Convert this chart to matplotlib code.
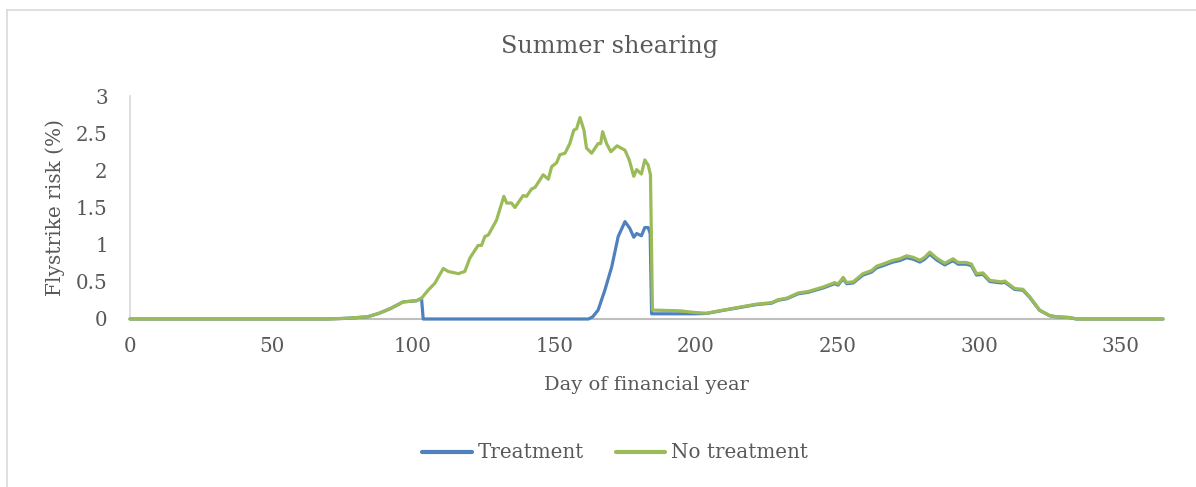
import matplotlib
matplotlib.use("Agg")
import matplotlib.pyplot as plt
from matplotlib.lines import Line2D

plt.rcParams['font.family'] = ['DejaVu Serif']

# ---- data (day of financial year, flystrike risk %) ----
early_days = [0, 60, 70, 77, 84, 88, 92, 96.5, 101.3, 103.0]
early_vals = [0, 0, 0.0, 0.01, 0.03, 0.077, 0.14, 0.23, 0.246, 0.28]

late_days = [203.7, 209.6, 215.5, 221.4, 226.7, 229.0, 232.0, 236.1, 239.6, 244.9,
             249.0, 250.2, 252.0, 253.2, 255.5, 259.0, 262.0, 263.8, 266.1, 269.6,
             272.0, 274.4, 276.7, 279.1, 280.8, 282.6, 285.0, 287.9, 290.8, 292.6,
             295.5, 297.3, 299.1, 301.4, 303.8, 307.9, 309.1, 312.6, 315.5, 317.9,
             321.4, 325.0, 327.3, 332.0, 334.4, 365]
late_vals = [0.077, 0.12, 0.16, 0.20, 0.22, 0.26, 0.28, 0.35, 0.37, 0.43,
             0.49, 0.47, 0.56, 0.49, 0.50, 0.61, 0.65, 0.71, 0.74, 0.79,
             0.81, 0.85, 0.83, 0.79, 0.83, 0.90, 0.82, 0.75, 0.81, 0.76,
             0.76, 0.74, 0.61, 0.62, 0.52, 0.50, 0.51, 0.41, 0.40, 0.30,
             0.12, 0.045, 0.03, 0.02, 0.0, 0.0]

no_treat_mid_days = [105.4, 107.7, 110.7, 112.4, 116.0, 118.3, 120.1, 123.0, 124.2, 125.4,
                     126.6, 129.5, 132.1, 133.1, 134.8, 136.0, 138.9, 140.1, 141.9, 143.1,
                     146.0, 147.8, 149.0, 150.7, 151.9, 153.7, 155.4, 156.8, 157.8, 159.0,
                     160.4, 161.3, 163.1, 165.4, 166.3, 167.0, 168.4, 169.9, 172.1, 174.9,
                     176.4, 178.0, 179.0, 180.7, 181.9, 183.1, 183.9, 184.6, 194.3, 199.0]
no_treat_mid_vals = [0.39, 0.48, 0.68, 0.64, 0.61, 0.64, 0.82, 0.99, 0.99, 1.11,
                     1.13, 1.33, 1.65, 1.56, 1.56, 1.50, 1.66, 1.65, 1.75, 1.77,
                     1.94, 1.88, 2.05, 2.10, 2.21, 2.23, 2.36, 2.54, 2.56, 2.71,
                     2.54, 2.30, 2.23, 2.36, 2.36, 2.52, 2.36, 2.25, 2.33, 2.27,
                     2.14, 1.92, 2.01, 1.95, 2.14, 2.07, 1.94, 0.12, 0.11, 0.09]

treat_mid_days = [103.6, 162.0, 163.5, 165.4, 167.8, 170.2, 172.5, 174.9, 176.6, 178.0,
                  179.0, 180.7, 181.9, 183.1, 183.8, 184.3, 194.3, 199.0]
treat_mid_vals = [0.0, 0.0, 0.03, 0.12, 0.39, 0.70, 1.11, 1.31, 1.22, 1.10,
                  1.15, 1.12, 1.23, 1.23, 1.15, 0.07, 0.07, 0.07]

no_treat_days = early_days + no_treat_mid_days + late_days
no_treat_vals = early_vals + no_treat_mid_vals + late_vals
treat_days = early_days + treat_mid_days + late_days
treat_vals = early_vals + treat_mid_vals + [v * 0.97 for v in late_vals]

x_ticks = [0, 50, 100, 150, 200, 250, 300, 350]
y_ticks = [0, 0.5, 1, 1.5, 2, 2.5, 3]
y_tick_labels = ['0', '0.5', '1', '1.5', '2', '2.5', '3']

title = "Summer shearing"
x_label = "Day of financial year"
y_label = "Flystrike risk (%)"
series_names = ["Treatment", "No treatment"]

# ---- styling ----
W, H = 1196, 487
text_col = '#595959'
blue = '#4F81BD'
green = '#9BBB59'

fig = plt.figure(figsize=(W / 100, H / 100), dpi=100)
fig.patch.set_facecolor('white')

# chart border (top and left visible)
fig.add_artist(Line2D([7 / W, 1.0], [1 - 9.5 / H, 1 - 9.5 / H], color='#D9D9D9', lw=1.2))
fig.add_artist(Line2D([7 / W, 7 / W], [0, 1 - 9.5 / H], color='#D9D9D9', lw=1.2))

ax_l, ax_r, ax_t, ax_b = 130, 1163, 96, 319
ax = fig.add_axes([ax_l / W, 1 - ax_b / H, (ax_r - ax_l) / W, (ax_b - ax_t) / H])

ax.plot(treat_days, treat_vals, color=blue, lw=2.3, solid_capstyle='round',
        solid_joinstyle='round', label=series_names[0], zorder=3)
ax.plot(no_treat_days, no_treat_vals, color=green, lw=2.3, solid_capstyle='round',
        solid_joinstyle='round', label=series_names[1], zorder=4)

ax.set_xlim(0, 365)
ax.set_ylim(0, 3)
ax.set_xticks(x_ticks)
ax.set_yticks(y_ticks)
ax.set_yticklabels(y_tick_labels)
ax.tick_params(axis='both', length=0, labelsize=14.3, colors=text_col)
ax.tick_params(axis='x', pad=13)
ax.tick_params(axis='y', pad=16)

for s in ['top', 'right']:
    ax.spines[s].set_visible(False)
ax.spines['left'].set_color('#D9D9D9')
ax.spines['left'].set_linewidth(1.2)
ax.spines['bottom'].set_color('#BFBFBF')
ax.spines['bottom'].set_linewidth(1.5)
for ln in ax.lines:
    ln.set_clip_on(False)

fig.text(610 / W, 1 - 47 / H, title, ha='center', va='center', fontsize=17.3, color=text_col)
fig.text(646 / W, 1 - 385 / H, x_label, ha='center', va='center', fontsize=14.0, color=text_col)
fig.text(55 / W, 1 - 208 / H, y_label, ha='center', va='center', rotation=90, fontsize=14.5,
         color=text_col)

leg = fig.legend(loc='center', bbox_to_anchor=(615 / W, 1 - 453 / H), ncol=2, frameon=False,
                 fontsize=14.3, handlelength=2.5, handletextpad=0.3, columnspacing=1.6)
for t in leg.get_texts():
    t.set_color(text_col)
for h in leg.legend_handles:
    h.set_linewidth(3)

fig.savefig('out.png', dpi=100)
